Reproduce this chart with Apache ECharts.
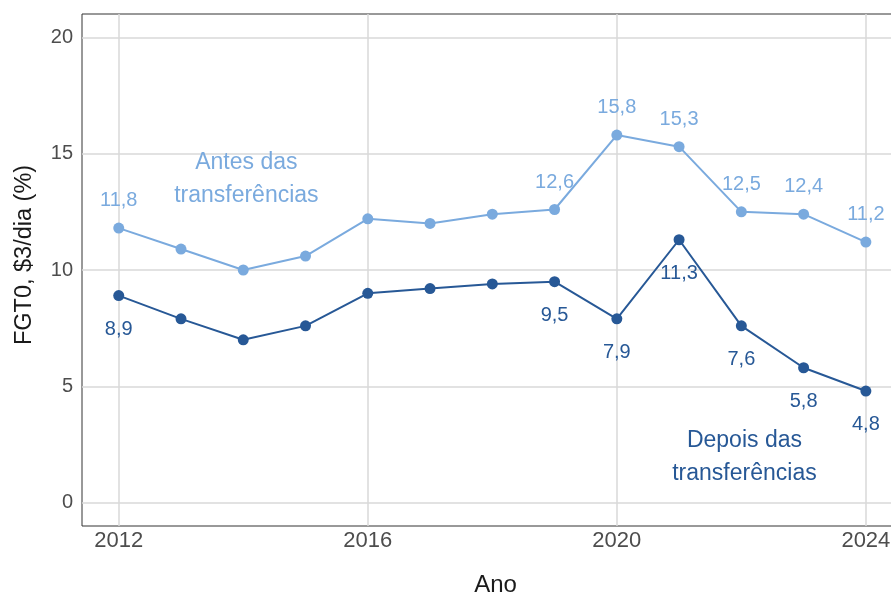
<!DOCTYPE html>
<html>
<head>
<meta charset="utf-8">
<script src="https://cdn.jsdelivr.net/npm/echarts@6/dist/echarts.min.js"></script>
<style>
  html, body { margin: 0; padding: 0; background: #fff; }
  #chart { width: 891px; height: 597px; }
</style>
</head>
<body>
<div id="chart"></div>
<script>
var anos = [2012, 2013, 2014, 2015, 2016, 2017, 2018, 2019, 2020, 2021, 2022, 2023, 2024];
var antes = [11.8, 10.9, 10.0, 10.6, 12.2, 12.0, 12.4, 12.6, 15.8, 15.3, 12.5, 12.4, 11.2];
var depois = [8.9, 7.9, 7.0, 7.6, 9.0, 9.2, 9.4, 9.5, 7.9, 11.3, 7.6, 5.8, 4.8];
// anos com rótulo de valor
var anosRotulo = [2012, 2019, 2020, 2021, 2022, 2023, 2024];
var xTicks = [2012, 2016, 2020, 2024];
var yTicks = [0, 5, 10, 15, 20];

var corAntes = '#7aaade';
var corDepois = '#275896';
var fonte = '"Liberation Sans", Arial, sans-serif';

function pares(vals) {
    return anos.map(function (a, i) { return [a, vals[i]]; });
}
function rotulo(p) {
    if (anosRotulo.indexOf(p.value[0]) < 0) return '';
    return p.value[1].toFixed(1).replace('.', ',');
}

var myChart = echarts.init(document.getElementById('chart'));
var option = {
    backgroundColor: '#fff',
    animation: false,
    grid: {
        left: 82,
        top: 14,
        right: -6,
        bottom: 71,
        show: true,
        borderColor: '#333',
        borderWidth: 1,
        outerBoundsMode: 'none'
    },
    xAxis: {
        type: 'value',
        min: 2011.41,
        max: 2024.5,
        name: 'Ano',
        nameLocation: 'middle',
        nameGap: 47,
        nameTextStyle: { color: '#1a1a1a', fontSize: 24, fontFamily: fonte, padding: [0, 0, 0, 12] },
        axisLine: { show: false },
        axisTick: { show: false, customValues: xTicks },
        axisLabel: {
            customValues: xTicks,
            color: '#4d4d4d',
            fontSize: 22,
            fontFamily: fonte,
            margin: 4,
            formatter: function (v) { return String(v); }
        },
        splitLine: { show: true, lineStyle: { color: '#d9d9d9', width: 1.5 } }
    },
    yAxis: {
        type: 'value',
        min: -1,
        max: 21,
        name: 'FGT0, $3/dia (%)',
        nameLocation: 'middle',
        nameGap: 45,
        nameTextStyle: { color: '#1a1a1a', fontSize: 23.5, fontFamily: fonte, padding: [0, 0, 0, 30] },
        axisLine: { show: false },
        axisTick: { show: false, customValues: yTicks },
        axisLabel: {
            customValues: yTicks,
            color: '#4d4d4d',
            fontSize: 20,
            fontFamily: fonte,
            margin: 9
        },
        splitLine: { show: true, lineStyle: { color: '#d9d9d9', width: 1.5 } }
    },
    series: [
        {
            name: 'Antes das transferências',
            type: 'line',
            data: pares(antes),
            symbol: 'circle',
            symbolSize: 11,
            itemStyle: { color: corAntes },
            lineStyle: { color: corAntes, width: 2 },
            label: {
                show: true,
                position: 'top',
                distance: 12,
                color: corAntes,
                fontSize: 20,
                fontFamily: fonte,
                formatter: rotulo
            },
            markPoint: {
                symbol: 'circle',
                symbolSize: 0,
                silent: true,
                label: {
                    show: true,
                    color: corAntes,
                    fontSize: 23,
                    lineHeight: 33,
                    fontFamily: fonte,
                    align: 'center',
                    formatter: 'Antes das\ntransferências'
                },
                data: [{ coord: [2014.05, 13.92] }]
            }
        },
        {
            name: 'Depois das transferências',
            type: 'line',
            data: pares(depois),
            symbol: 'circle',
            symbolSize: 11,
            itemStyle: { color: corDepois },
            lineStyle: { color: corDepois, width: 2 },
            label: {
                show: true,
                position: 'bottom',
                distance: 18,
                color: corDepois,
                fontSize: 20,
                fontFamily: fonte,
                formatter: rotulo
            },
            markPoint: {
                symbol: 'circle',
                symbolSize: 0,
                silent: true,
                label: {
                    show: true,
                    color: corDepois,
                    fontSize: 23,
                    lineHeight: 33,
                    fontFamily: fonte,
                    align: 'center',
                    formatter: 'Depois das\ntransferências'
                },
                data: [{ coord: [2022.05, 1.97] }]
            }
        }
    ]
};
myChart.setOption(option);
</script>
</body>
</html>
